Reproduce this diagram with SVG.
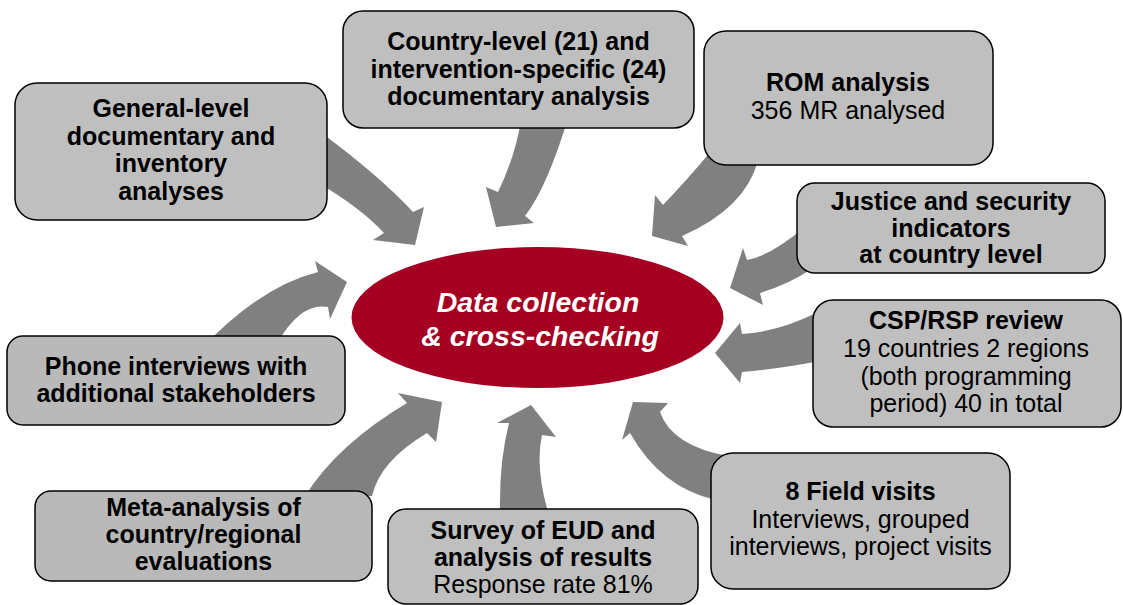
<svg xmlns="http://www.w3.org/2000/svg" width="1123" height="605" viewBox="0 0 1123 605">
<style>
.box{fill:#bfbfbf;stroke:#000;stroke-width:1.5}
.dk{fill:#b9b9b9}
.arr{fill:#808080;stroke:none}
text{font-family:"Liberation Sans",Arial,sans-serif;font-size:25px;fill:#000;text-anchor:middle}
.b{font-weight:bold}
.c{font-weight:bold;font-style:italic;font-size:28.5px;fill:#fff}
</style>
<rect width="1123" height="605" fill="#fff"/>
<g id="connectors">
<path class="arr" d="M315,128 Q380,176 413,212 L424,207 L415,245 L373,240 L384,233 Q360,207 315,181 Z"/>
<path class="arr" d="M522,115 Q516,155 498,192 L486,187 L496,227 L534,223 L525,216 Q547,188 569,115 Z"/>
<path class="arr" d="M712,150 Q687,180 663,205 L655,195 L652,236 L688,246 L682,236 Q746,208 758,160 Z"/>
<path class="arr" d="M805,227 Q770,256 747,260 L743,248 L730,288 L763,305 L760,293 Q789,284 810,270 Z"/>
<path class="arr" d="M820,311 Q779,332 742,334 L740,323 L715,353 L740,383 L742,372 Q778,369 820,361 Z"/>
<path class="arr" d="M205,345 Q262,286 318,272 L315,261 L347,282 L330,319 L328,307 Q301,302 278,342 Z"/>
<path class="arr" d="M305,496 Q338,444 407,403 L398,393 L442,402 L436,442 L427,433 Q380,461 372,496 Z"/>
<path class="arr" d="M500,512 Q499,462 509,423 L497,423 L531,405 L556,437 L542,435 Q535,467 548,512 Z"/>
<path class="arr" d="M728,456 Q672,446 660,412 L668,403 L633,402 L622,440 L630,433 Q661,488 716,500 Z"/>
</g>
<g id="center">
<ellipse cx="537.5" cy="317.5" rx="186" ry="70.5" fill="#a50021"/>
<text class="c" x="538" y="312">Data collection</text>
<text class="c" x="540" y="346">&amp; cross-checking</text>
</g>
<g id="general">
<rect class="box" x="15" y="83" width="312" height="137" rx="22"/>
<text class="b" x="171" y="117">General-level</text>
<text class="b" x="171" y="144.5">documentary and</text>
<text class="b" x="171" y="172">inventory</text>
<text class="b" x="171" y="199.5">analyses</text>
</g>
<g id="country">
<rect class="box" x="343" y="11" width="351" height="117" rx="20"/>
<text class="b" x="518.5" y="50">Country-level (21) and</text>
<text class="b" x="518.5" y="78">intervention-specific (24)</text>
<text class="b" x="518.5" y="105">documentary analysis</text>
</g>
<g id="rom">
<rect class="box" x="704" y="31" width="289" height="134" rx="22"/>
<text class="b" x="848" y="91">ROM analysis</text>
<text x="848" y="119">356 MR analysed</text>
</g>
<g id="justice">
<rect class="box" x="797" y="183" width="308" height="90" rx="18"/>
<text class="b" x="951" y="210">Justice and security</text>
<text class="b" x="951" y="237">indicators</text>
<text class="b" x="951" y="263">at country level</text>
</g>
<g id="csp">
<rect class="box" x="813" y="300" width="308" height="127" rx="20"/>
<text class="b" x="966" y="329">CSP/RSP review</text>
<text x="966" y="357">19 countries 2 regions</text>
<text x="966" y="385">(both programming</text>
<text x="966" y="412">period) 40 in total</text>
</g>
<g id="phone">
<rect class="box dk" x="7" y="336" width="338" height="89" rx="16"/>
<text class="b" x="176" y="375">Phone interviews with</text>
<text class="b" x="176" y="402">additional stakeholders</text>
</g>
<g id="meta">
<rect class="box dk" x="35" y="491" width="337" height="90" rx="16"/>
<text class="b" x="203.5" y="516">Meta-analysis of</text>
<text class="b" x="203.5" y="543">country/regional</text>
<text class="b" x="203.5" y="570">evaluations</text>
</g>
<g id="survey">
<rect class="box" x="388" y="509" width="310" height="95" rx="18"/>
<text class="b" x="543" y="539">Survey of EUD and</text>
<text class="b" x="543" y="566">analysis of results</text>
<text x="543" y="593">Response rate 81%</text>
</g>
<g id="field">
<rect class="box" x="711" y="453" width="299" height="136" rx="22"/>
<text class="b" x="860.5" y="500">8 Field visits</text>
<text x="860.5" y="528">Interviews, grouped</text>
<text x="860.5" y="555">interviews, project visits</text>
</g>
</svg>
